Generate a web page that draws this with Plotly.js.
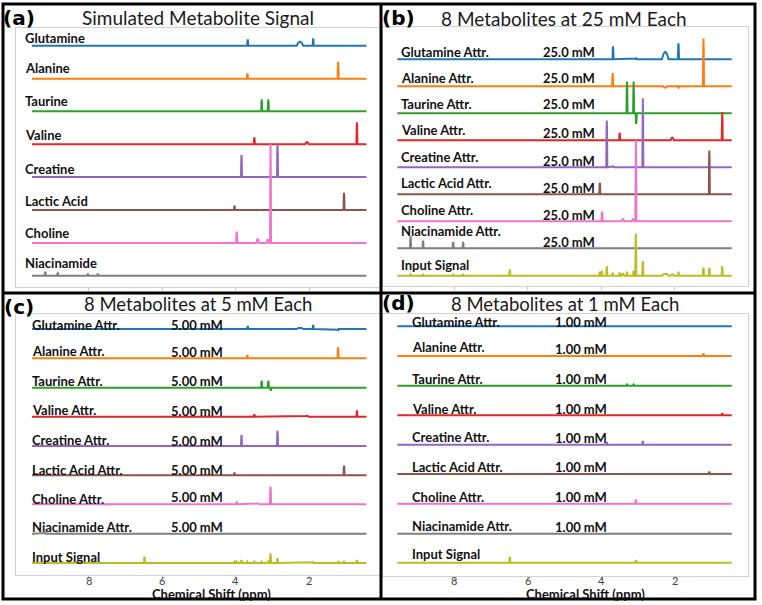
<!DOCTYPE html>
<html><head><meta charset="utf-8">
<script src="https://cdn.plot.ly/plotly-3.0.1.min.js"></script>
<style>html,body{margin:0;padding:0;background:#fff}</style>
</head><body><div id="chart" style="width:762px;height:605px"></div>
<script>
// ---------------- DATA ----------------
const metabolites = ["Glutamine","Alanine","Taurine","Valine","Creatine","Lactic Acid","Choline","Niacinamide"];
const inputName = "Input Signal";
const concentrations = [25, 5, 1];   // mM, panels b, c, d
const panelTitles = ["Simulated Metabolite Signal","8 Metabolites at 25 mM Each","8 Metabolites at 5 mM Each","8 Metabolites at 1 mM Each"];
const panelLetters = ["(a)","(b)","(c)","(d)"];
const xTickVals = [8, 6, 4, 2];
const xTickText = ["8", "6", "4", "2"];
const xTitle = "Chemical Shift (ppm)";
const spectrumStart = 9.55, spectrumEnd = 0.45;   // ppm

// peak positions (ppm) per metabolite
const ppmGlutamine   = [3.68, 3.05, 2.26, 1.90, 1.22];
const ppmAlanine     = [3.69, 2.26, 1.90, 1.22];
const ppmTaurine     = [3.98, 3.30, 3.12, 3.05];
const ppmValine      = [3.50, 2.07, 0.71];
const ppmCreatine    = [3.85, 3.68, 2.87];
const ppmLactic      = [4.04, 1.06];
const ppmCholine     = [3.98, 3.41, 3.14, 3.06];
const ppmNiacinamide = [9.19, 8.85, 8.03, 7.76];
const ppmInput       = [9.19, 8.85, 8.03, 7.76, 6.49, 4.04, 3.98, 3.85, 3.69, 3.50, 3.41, 3.30, 3.12, 3.06, 2.87, 2.26, 2.07, 1.90, 1.22, 1.06, 0.71];

// peak half-widths (ppm)
const wGlutamine   = [0.014, 0.014, 0.09, 0.014, 0.014];
const wAlanine     = [0.014, 0.05, 0.02, 0.014];
const wTaurine     = [0.014, 0.014, 0.014, 0.014];
const wValine      = [0.014, 0.045, 0.014];
const wCreatine    = [0.014, 0.014, 0.014];
const wLactic      = [0.014, 0.014];
const wCholine     = [0.014, 0.035, 0.035, 0.014];
const wNiacinamide = [0.014, 0.014, 0.014, 0.014];
const wInput       = [0.014,0.014,0.014,0.014,0.014,0.014,0.014,0.014,0.014,0.014,0.035,0.014,0.014,0.014,0.014,0.09,0.045,0.014,0.014,0.014,0.014];

// intensities (a.u.) per panel, one list per metabolite (+ input signal)
const heightsA = [[6.3,0,4,7.3,0],[5.3,0,0,17],[0,12,12,0],[7,2.3,22],[22,0,33],[4.3,17.3],[11.3,3.7,3.7,99],[4,3,2,2]];
const heightsB = [[13,1,7.5,16,0],[13.3,-1.5,-1.5,47.7],[0.7,31.7,31.7,-10.7],[7.3,2.7,28.3],[46.7,1,69],[11.7,43.7],[9.7,2.3,2,81.3],[12.3,7.7,6.3,6.3],
                  [1.5,1.2,1.2,1.2,6.3,4,5,9.7,3,3,2,4,5,42.3,14.7,2,1.5,4,8,8,9.7]];
const heightsC = [[3,0,1.5,4,-1],[3.3,-0.7,0,11],[0.5,7,7,-3],[2.3,1,6.3],[11,0,15.3],[2.7,9.7],[2.7,1,0.5,17.7],[1,0.7,0.7,0.7],
                  [0,0,0,0,6.3,1.5,1.5,3,1.5,1.5,0.7,1.5,1.5,9.7,4.7,0.7,0.7,1,2,2,3]];
const heightsD = [[0.7,0,0.7,0.7,0],[0.7,0,0,2.7],[0,1.3,1.3,-0.5],[0.5,0,2],[2.7,0,3.7],[0.5,2.3],[0.5,0.5,0,4.3],[0.3,0.3,0,0],
                  [0,0,0,0,6,0,0,0.7,0,0,0,0.3,0.3,2.7,0.7,0,0,0,0.7,0.7,0.7]];

// ---------------- STYLE / LAYOUT ----------------
const colors = ["#1f77b4","#ff7f0e","#2ca02c","#e32626","#9467bd","#8c564b","#f073cc","#7f7f7f","#bcbd22"];
const W = 762, H = 605;
// frames in pixels [left, right, top, bottom]; ppm at left/right edge
const frames = [[16,381,28,287],[383,748,27,286],[16,381,314,575],[383,748,314,576]];
const ppmEdges = [[9.986,0.054],[9.94,0.008],[9.986,0.054],[9.94,0.008]];
const baselines = [
  [45.7,78.7,111.3,144.3,177,210,243,275.7],
  [59.3,86.3,113.3,140.3,167.3,194.3,221.3,248.3,275.7],
  [329,358.3,387.7,416.7,446,475.3,504.3,533.7,563],
  [326.3,356,385.7,415.3,444.7,474,503.7,533.7,562.7]];
const labelX = [24, 400, 30.5, 411];
const labelY = [
  [38,68.3,100.8,135.3,168.7,201,233.3,262.8],
  [52.3,78.3,104.3,130,156.7,183.3,210,230.7,265],
  [324.8,351,381,410,440,470,499.3,527.3,556.7],
  [321.8,346.7,379,408.7,437,466.7,496.7,526,554.3]];
const concX = [null, 542, 170, 554];
const concY = [null,
  [52.3,78.3,104.3,133.3,160.7,188.3,215,241.7],
  [324.8,351.7,381,410.7,440.7,470,497.3,526.7],
  [321.8,349.3,379,408.7,437.7,466.7,497.3,527.3]];
const titlePos = [[198,18],[564,18.3],[198.3,304],[564.5,304]];
const titleSize = [19, 19, 18.5, 18.5];
const letterPos = [[2,18],[381,18],[3,307],[381,303]];
const xTitlePos = [null, null, [211,593.5], [585.5,593.5]];
const tickLabelY = 580;

const ppmLists = [ppmGlutamine, ppmAlanine, ppmTaurine, ppmValine, ppmCreatine, ppmLactic, ppmCholine, ppmNiacinamide, ppmInput];
const wLists = [wGlutamine, wAlanine, wTaurine, wValine, wCreatine, wLactic, wCholine, wNiacinamide, wInput];
const heightSets = [heightsA, heightsB, heightsC, heightsD];

function spectrum(ppms, widths, heights) {
  const pk = ppms.map((p,i)=>({p:p, w:widths[i], h:heights[i]})).filter(o=>o.h!==0).sort((a,b)=>b.p-a.p);
  const xs = [spectrumStart], ys = [0];
  pk.forEach(o => {
    xs.push(o.p+o.w, o.p+o.w*0.5, o.p, o.p-o.w*0.5, o.p-o.w);
    ys.push(0, o.h*0.75, o.h, o.h*0.75, 0);
  });
  xs.push(spectrumEnd); ys.push(0);
  return {xs, ys};
}

const traces = [];
const layout = {
  width: W, height: H, margin: {l:0,r:0,t:0,b:0},
  paper_bgcolor: "#fff", plot_bgcolor: "#fff", showlegend: false,
  annotations: [], shapes: []
};
const px2x = v => v / W, py2y = v => 1 - v / H;
const labelFont = {family: "Lato, 'Open Sans', sans-serif", size: 13, color: "#111"};

for (let p = 0; p < 4; p++) {
  const n = p + 1, sx = n === 1 ? "" : String(n);
  const [fl, fr, ft, fb] = frames[p];
  const base = baselines[p];
  layout["xaxis" + sx] = {
    domain: [px2x(fl), px2x(fr)], range: ppmEdges[p], anchor: "y" + sx,
    showline: true, mirror: true, linecolor: "#d2d2d2", linewidth: 1,
    ticks: "outside", ticklen: 3, tickcolor: "#c8c8c8", tickvals: xTickVals,
    showticklabels: false, showgrid: false, zeroline: false, fixedrange: true
  };
  layout["yaxis" + sx] = {
    domain: [py2y(fb), py2y(ft)], range: [-(fb - base[0]), base[0] - ft], anchor: "x" + sx,
    showline: true, mirror: true, linecolor: "#d2d2d2", linewidth: 1,
    ticks: "", showticklabels: false, showgrid: false, zeroline: false, fixedrange: true
  };
  const nRows = p === 0 ? 8 : 9;
  for (let r = 0; r < nRows; r++) {
    const s = spectrum(ppmLists[r], wLists[r], heightSets[p][r]);
    const off = -(base[r] - base[0]);
    traces.push({
      type: "scatter", mode: "lines", x: s.xs, y: s.ys.map(v => v + off),
      xaxis: "x" + sx, yaxis: "y" + sx, line: {color: colors[r], width: 2}, hoverinfo: "skip"
    });
    const name = r < 8 ? (p === 0 ? metabolites[r] : metabolites[r] + " Attr.") : inputName;
    layout.annotations.push({
      text: "<b>" + name + "</b>", xref: "paper", yref: "paper",
      x: px2x(labelX[p]), y: py2y(labelY[p][r]), xanchor: "left", yanchor: "middle",
      showarrow: false, font: labelFont, borderpad: 0
    });
    if (p > 0 && r < 8) {
      layout.annotations.push({
        text: "<b>" + concentrations[p-1].toPrecision(3) + " mM</b>", xref: "paper", yref: "paper",
        x: px2x(concX[p]), y: py2y(concY[p][r]), xanchor: "left", yanchor: "middle",
        showarrow: false, font: labelFont, borderpad: 0
      });
    }
  }
  layout.annotations.push({
    text: panelTitles[p], xref: "paper", yref: "paper",
    x: px2x(titlePos[p][0]), y: py2y(titlePos[p][1]), xanchor: "center", yanchor: "middle",
    showarrow: false, font: {family: "Lato, sans-serif", size: titleSize[p], color: "#1a1a1a"}, borderpad: 0
  });
  layout.annotations.push({
    text: "<b>" + panelLetters[p] + "</b>", xref: "paper", yref: "paper",
    x: px2x(letterPos[p][0]), y: py2y(letterPos[p][1]), xanchor: "left", yanchor: "middle",
    showarrow: false, font: {family: "'DejaVu Sans', sans-serif", size: 20, color: "#000"}, borderpad: 0
  });
  if (xTitlePos[p]) {
    xTickVals.forEach((v, i) => layout.annotations.push({
      text: xTickText[i], xref: "x" + sx, yref: "paper", x: v, y: py2y(tickLabelY),
      xanchor: "center", yanchor: "middle", showarrow: false, borderpad: 0,
      font: {family: "Lato, sans-serif", size: 11, color: "#444"}
    }));
    layout.annotations.push({
      text: "<b>" + xTitle + "</b>", xref: "paper", yref: "paper",
      x: px2x(xTitlePos[p][0]), y: py2y(xTitlePos[p][1]), xanchor: "center", yanchor: "middle",
      showarrow: false, font: {family: "Lato, sans-serif", size: 13, color: "#111"}, borderpad: 0
    });
  }
}

// panel borders
const bl = {color: "#000", width: 3};
layout.shapes.push({type: "rect", xref: "paper", yref: "paper", x0: px2x(3), x1: px2x(755), y0: py2y(599), y1: py2y(4), line: bl});
layout.shapes.push({type: "line", xref: "paper", yref: "paper", x0: px2x(381), x1: px2x(381), y0: py2y(599), y1: py2y(4), line: bl});
layout.shapes.push({type: "line", xref: "paper", yref: "paper", x0: px2x(3), x1: px2x(755), y0: py2y(293), y1: py2y(293), line: bl});

Plotly.newPlot("chart", traces, layout, {staticPlot: true, displayModeBar: false});
</script></body></html>
